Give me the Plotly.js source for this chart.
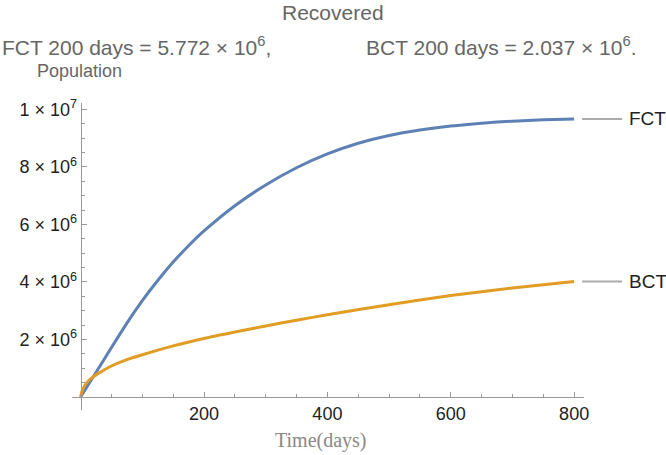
<!DOCTYPE html>
<html>
<head>
<meta charset="utf-8">
<script src="https://cdn.plot.ly/plotly-3.0.1.min.js"></script>
<style>html,body{margin:0;padding:0;background:#fff;}#chart{width:666px;height:455px;}</style>
</head>
<body>
<div id="chart"></div>
<script>
// Data
const daysFCT = [0, 25, 50, 75, 100, 125, 150, 175, 200, 250, 300, 350, 400, 450, 500, 550, 600, 650, 700, 750, 800];
const fct     = [0, 0.86e6, 1.72e6, 2.57e6, 3.35e6, 4.05e6, 4.69e6, 5.26e6, 5.772e6, 6.65e6, 7.37e6, 7.97e6, 8.45e6, 8.82e6, 9.09e6, 9.28e6, 9.42e6, 9.52e6, 9.59e6, 9.635e6, 9.665e6];
const daysBCT = [0, 3, 10, 20, 30, 50, 75, 100, 150, 200, 250, 300, 350, 400, 500, 600, 700, 800];
const bct     = [0, 0.25e6, 0.5e6, 0.7e6, 0.84e6, 1.08e6, 1.3e6, 1.47e6, 1.78e6, 2.037e6, 2.26e6, 2.47e6, 2.67e6, 2.86e6, 3.21e6, 3.53e6, 3.79e6, 4.02e6];
const seriesNames = ["FCT", "BCT"];
const xTickVals = [200, 400, 600, 800];
const xTickText = ["200", "400", "600", "800"];
const yTickVals = [2e6, 4e6, 6e6, 8e6, 1e7];
const yTickText = ["2 × 10<sup>6</sup>", "4 × 10<sup>6</sup>", "6 × 10<sup>6</sup>", "8 × 10<sup>6</sup>", "1 × 10<sup>7</sup>"];
const titleText = "Recovered";
const noteFCT = "FCT 200 days = 5.772 × 10<sup>6</sup>,";
const noteBCT = "BCT 200 days = 2.037 × 10<sup>6</sup>.";
const yLabel = "Population";
const xLabel = "Time(days)";

const colors = ["#5E81B5", "#E19C24"];
const xRange = [-14, 816];
const yRange = [-0.45e6, 10.22e6];
const M = {l: 72, r: 82, t: 103, b: 45};
const W = 666, H = 455;
const pw = W - M.l - M.r, ph = H - M.t - M.b;
const px = p => (p - M.l) / pw;
const py = p => (H - M.b - p) / ph;
const dx = v => (v - xRange[0]) / (xRange[1] - xRange[0]);
const dy = v => (v - yRange[0]) / (yRange[1] - yRange[0]);

const series = [[daysFCT, fct], [daysBCT, bct]];
const traces = series.map((s, i) => ({
  x: s[0], y: s[1], type: 'scatter', mode: 'lines', name: seriesNames[i],
  line: {color: colors[i], width: 3, shape: 'spline', smoothing: 0.6},
  hoverinfo: 'skip', showlegend: false
}));

const fontSans = "Liberation Sans, Arial, sans-serif";
const annotations = [
  {text: titleText, xref: 'paper', yref: 'paper', x: px(333), y: py(12), xanchor: 'center', yanchor: 'middle', showarrow: false, font: {family: fontSans, size: 21, color: '#666'}},
  {text: noteFCT, xref: 'paper', yref: 'paper', x: px(0), y: py(46), xanchor: 'left', yanchor: 'middle', showarrow: false, font: {family: fontSans, size: 21, color: '#666'}},
  {text: noteBCT, xref: 'paper', yref: 'paper', x: px(364), y: py(46), xanchor: 'left', yanchor: 'middle', showarrow: false, font: {family: fontSans, size: 21, color: '#666'}},
  {text: yLabel, xref: 'paper', yref: 'paper', x: px(35), y: py(71), xanchor: 'left', yanchor: 'middle', showarrow: false, font: {family: fontSans, size: 18, color: '#666'}},
  {text: xLabel, xref: 'paper', yref: 'paper', x: px(320), y: py(440), xanchor: 'center', yanchor: 'middle', showarrow: false, font: {family: "Liberation Serif, Times New Roman, serif", size: 20, color: '#888'}}
];
const shapes = [];
series.forEach((s, i) => {
  const lx = s[0][s[0].length - 1], ly = s[1][s[1].length - 1];
  shapes.push({type: 'line', xref: 'paper', yref: 'paper', xsizemode: 'pixel', xanchor: dx(lx), x0: 8, x1: 48, y0: dy(ly), y1: dy(ly), line: {color: '#aaa', width: 2}});
  annotations.push({text: seriesNames[i], xref: 'paper', yref: 'paper', x: dx(lx), y: dy(ly), xshift: 53, xanchor: 'left', yanchor: 'middle', showarrow: false, font: {family: fontSans, size: 19, color: '#222'}});
});

const layout = {
  width: W, height: H, margin: M,
  paper_bgcolor: '#fff', plot_bgcolor: '#fff', showlegend: false,
  xaxis: {
    range: xRange, anchor: 'free', position: dy(0),
    showgrid: false, zeroline: false, showline: true, linecolor: '#999', linewidth: 1,
    tickvals: xTickVals, ticktext: xTickText, ticks: 'inside', ticklen: 5, tickcolor: '#999',
    minor: {dtick: 50, tick0: 0, ticks: 'inside', ticklen: 3, tickcolor: '#999', showgrid: false},
    tickfont: {family: fontSans, size: 18, color: '#222'}
  },
  yaxis: {
    range: yRange, anchor: 'free', position: dx(0),
    showgrid: false, zeroline: false, showline: true, linecolor: '#999', linewidth: 1,
    tickvals: yTickVals, ticktext: yTickText, ticks: 'inside', ticklen: 5, tickcolor: '#999',
    minor: {dtick: 0.5e6, tick0: 0, ticks: 'inside', ticklen: 3, tickcolor: '#999', showgrid: false},
    tickfont: {family: fontSans, size: 18, color: '#222'}
  },
  annotations: annotations, shapes: shapes
};
Plotly.newPlot('chart', traces, layout, {displayModeBar: false, staticPlot: true});
</script>
</body>
</html>
